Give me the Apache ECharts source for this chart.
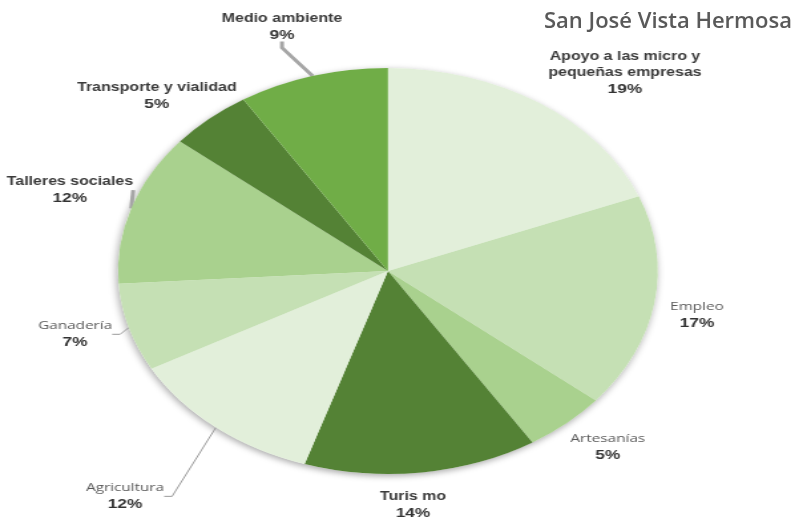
<!DOCTYPE html>
<html>
<head>
<meta charset="utf-8">
<script src="https://cdn.jsdelivr.net/npm/echarts@6/dist/echarts.min.js"></script>
<style>
  html, body { margin: 0; padding: 0; background: #ffffff; overflow: hidden; }
  #wrap { position: relative; width: 803px; height: 521px; }
  #pie { position: absolute; left: 0; top: 0; width: 604px; height: 521px; transform: scaleX(1.32947); transform-origin: 0 0; }
  #ttl { position: absolute; left: 0; top: 0; width: 803px; height: 521px; }
</style>
</head>
<body>
<div id="wrap">
  <div id="pie"></div>
  <div id="ttl"></div>
</div>
<script>
// ---- data ----
const titleText = 'San José Vista Hermosa';
const categories = ['Apoyo a las micro y\npequeñas empresas', 'Empleo', 'Artesanías', 'Turis mo', 'Agricultura', 'Ganadería', 'Talleres sociales', 'Transporte y vialidad', 'Medio ambiente'];
const values = [19, 17, 5, 14, 12, 7, 12, 5, 9];

// ---- style ----
const colors = ['#e2efda', '#c5e0b4', '#a9d18e', '#548235', '#e2efda', '#c5e0b4', '#a9d18e', '#548235', '#70ad47'];
const boldName = [true, false, false, true, false, false, true, true, true];
const labelDist = [1.31, 1.165, 1.19, 1.157, 1.476, 1.20, 1.244, 1.215, 1.264];
const labelShift = [7.9, 1.7, -1.8, 2.6, 1.7, 1.2, 0.7, -3.4, -1.9];
const lineShow = [false, false, false, false, true, true, true, false, true];
const lineWidth = [1, 1, 1, 1, 1, 1, 3, 1, 3];
const CX = 291.8, CY = 271, R = 203;

const total = values.reduce((a, b) => a + b, 0);
const midAngles = [];
let acc = 0;
values.forEach(v => { midAngles.push((acc + v / 2) / total * 360); acc += v; });

const narrow = '"Liberation Sans Narrow", "Liberation Sans", Arial, sans-serif';

const data = categories.map((name, i) => ({
  name: name,
  value: values[i],
  itemStyle: { color: colors[i] },
  label: {
    formatter: () => {
      const tag = boldName[i] ? 'b' : 'r';
      return name.split('\n').map(s => '{' + tag + '|' + s + '}').join('\n') + '\n{p|' + values[i] + '%}';
    }
  },
  labelLine: { show: lineShow[i], lineStyle: { width: lineWidth[i], color: lineWidth[i] > 1 ? '#a6a6a6' : '#9a9a9a' } }
}));

const pie = echarts.init(document.getElementById('pie'), null, { renderer: 'canvas' });
pie.setOption({
  animation: false,
  series: [
    {
      type: 'pie',
      silent: true,
      center: [CX, CY],
      radius: [0, R],
      startAngle: 90,
      clockwise: true,
      data: [{ value: 1, name: '' }],
      itemStyle: { color: '#ffffff', shadowBlur: 6, shadowColor: 'rgba(0,0,0,0.35)', shadowOffsetY: 2, shadowOffsetX: -1 },
      label: { show: false },
      labelLine: { show: false },
      z: 1
    },
    {
      type: 'pie',
      center: [CX, CY],
      radius: [0, R],
      startAngle: 90,
      clockwise: true,
      sort: false,
      avoidLabelOverlap: false,
      data: data,
      z: 2,
      label: {
        show: true,
        position: 'outside',
        rich: {
          b: { fontFamily: narrow, fontWeight: 'bold', fontSize: 12, color: '#3a3a3a', lineHeight: 16, align: 'center' },
          r: { fontFamily: '"Open Sans", sans-serif', fontWeight: 'normal', fontSize: 11.5, color: '#595959', lineHeight: 17, align: 'center' },
          p: { fontFamily: narrow, fontWeight: 'bold', fontSize: 13, color: '#333333', lineHeight: 17, align: 'center' }
        }
      },
      labelLine: { length: 10, length2: 6, smooth: false },
      labelLayout: function (params) {
        const i = params.dataIndex;
        const a = (midAngles[i] + labelShift[i]) * Math.PI / 180;
        return {
          x: CX + R * labelDist[i] * Math.sin(a),
          y: CY - R * labelDist[i] * Math.cos(a),
          align: 'center',
          verticalAlign: 'middle'
        };
      },
      emphasis: { disabled: true }
    }
  ]
});

const ttl = echarts.init(document.getElementById('ttl'), null, { renderer: 'canvas' });
ttl.setOption({
  animation: false,
  title: {
    text: titleText,
    right: 6,
    top: 6,
    textStyle: { fontFamily: '"Open Sans", sans-serif', fontWeight: 600, fontSize: 22, color: '#595959' }
  }
});
</script>
</body>
</html>
